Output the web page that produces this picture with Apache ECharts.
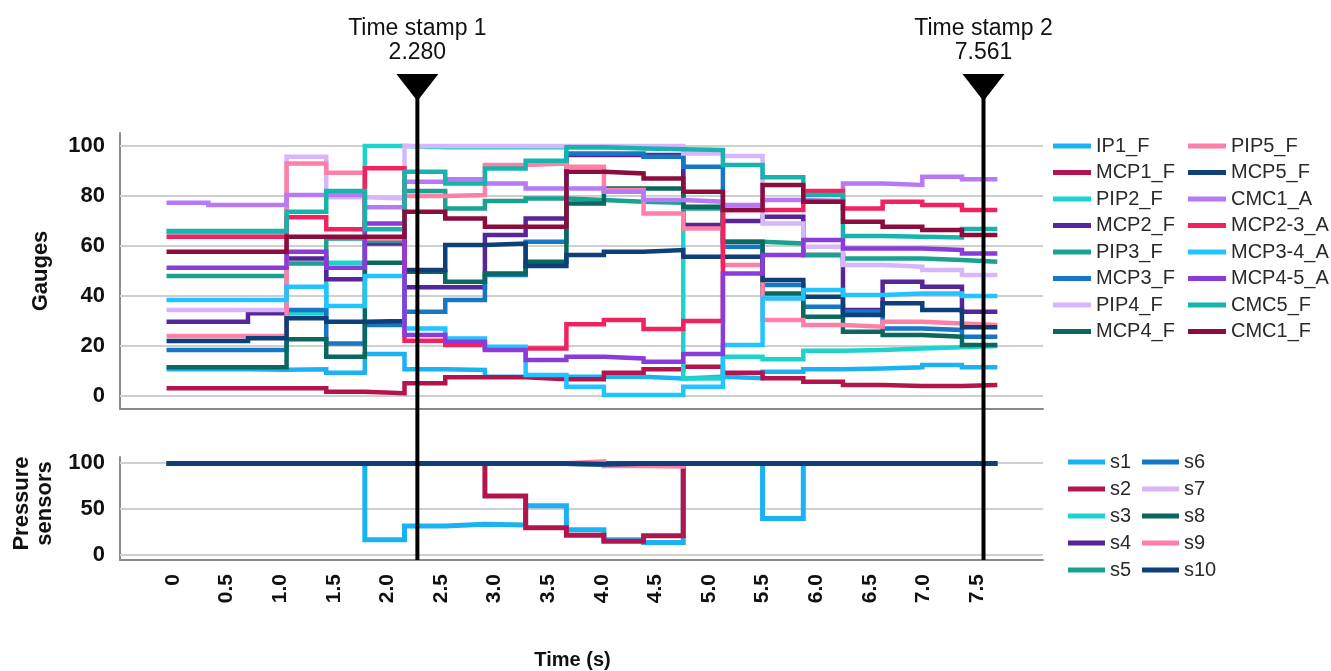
<!DOCTYPE html>
<html>
<head>
<meta charset="utf-8">
<script src="https://cdn.jsdelivr.net/npm/echarts@6/dist/echarts.min.js"></script>
<style>html,body{margin:0;padding:0;background:#fff}#c{width:1331px;height:671px}</style>
</head>
<body>
<div id="c"></div>
<script>
// ---------- data ----------
const times = [-0.06, 0.33, 0.70, 1.06, 1.43, 1.79, 2.16, 2.54, 2.91, 3.29, 3.67, 4.02, 4.39, 4.76, 5.13, 5.50, 5.88, 6.25, 6.62, 6.99, 7.36, 7.69];
const tickValues = [0, 0.5, 1, 1.5, 2, 2.5, 3, 3.5, 4, 4.5, 5, 5.5, 6, 6.5, 7, 7.5];
const tickLabels = ['0', '0.5', '1.0', '1.5', '2.0', '2.5', '3.0', '3.5', '4.0', '4.5', '5.0', '5.5', '6.0', '6.5', '7.0', '7.5'];
const gaugeTicks = [0, 20, 40, 60, 80, 100];
const pressureTicks = [0, 50, 100];
const stampNames = ['Time stamp 1', 'Time stamp 2'];
const stampTimes = [2.280, 7.561];

const gaugeNames = ['IP1_F', 'MCP1_F', 'PIP2_F', 'MCP2_F', 'PIP3_F', 'MCP3_F', 'PIP4_F', 'MCP4_F',
                    'PIP5_F', 'MCP5_F', 'CMC1_A', 'MCP2-3_A', 'MCP3-4_A', 'MCP4-5_A', 'CMC5_F', 'CMC1_F'];
const IP1_F    = [10.7,10.7,10.5,10.7,9.3,16.8,10.7,10.4,7.7,7.7,7.7,7.7,7.0,7.7,7.1,9.7,10.7,11.0,11.5,12.4,11.5];
const MCP1_F   = [3.1,3.1,3.1,3.1,1.7,1.1,5.1,7.5,7.5,6.7,6.7,9.3,10.7,11.7,9.3,7.1,5.7,4.4,4.0,4.0,4.4];
const PIP2_F   = [65.5,65.5,65.5,33.0,53.3,100,99.5,99.5,99.5,99.5,99.5,99.5,99.5,7.0,15.7,14.7,18.1,18.4,19.0,19.5,20.0];
const MCP2_F   = [29.7,29.7,33.1,55.0,46.7,61.0,43.5,43.5,64.4,71.0,96.4,96.4,96.4,68.4,70.0,71.7,56.4,34.4,45.7,43.7,33.7];
const PIP3_F   = [48.0,48.0,48.0,53.0,63.0,62.0,82.0,75.0,78.0,79.0,78.4,77.7,77.3,75.0,61.7,61.0,56.4,55.0,55.0,54.4,53.7];
const MCP3_F   = [18.4,18.4,18.4,34.4,21.0,28.4,33.7,38.4,48.4,61.7,97.0,97.0,95.7,91.7,59.7,44.4,35.7,33.7,27.0,26.4,23.7];
const PIP4_F   = [34.4,34.4,34.4,95.7,79.5,79.0,100,100,100,100,100,100,100,97.0,96.0,69.0,59.7,52.4,51.7,50.4,48.4];
const MCP4_F   = [11.5,11.5,11.5,22.7,15.7,53.3,49.7,45.7,49.0,53.7,77.0,83.0,83.0,75.7,61.7,41.0,31.7,25.7,24.4,23.7,20.4];
const PIP5_F   = [24.0,24.0,24.0,93.0,89.3,63.0,80.0,80.4,92.4,93.0,91.7,82.4,73.0,67.0,52.4,30.4,28.4,27.7,29.7,29.0,28.4];
const MCP5_F   = [22.0,22.0,23.1,31.1,29.7,30.0,50.4,60.4,61.0,52.0,56.4,57.7,58.4,55.7,55.7,46.4,39.7,32.4,37.1,34.4,27.5];
const CMC1_A   = [77.3,76.4,76.4,80.4,80.4,75.5,85.7,86.7,85.0,83.0,83.0,81.7,78.4,77.7,76.4,78.4,78.0,85.0,84.4,87.7,86.7];
const MCP2_3_A = [63.7,63.7,63.7,71.5,66.7,91.1,22.1,20.4,19.0,19.0,28.7,30.4,26.8,30.0,74.4,74.4,82.0,75.0,77.7,76.4,74.4];
const MCP3_4_A = [38.4,38.4,38.4,43.7,36.0,48.0,27.0,23.0,19.7,8.4,3.7,0.4,0.4,3.7,20.4,39.0,42.4,40.4,41.0,41.0,40.0];
const MCP4_5_A = [51.3,51.3,51.3,57.7,51.3,69.0,24.4,21.7,18.4,14.4,15.7,15.0,13.7,16.8,49.0,56.4,62.4,59.0,59.0,58.4,57.0];
const CMC5_F   = [66.0,66.0,66.0,73.7,82.0,66.7,89.7,85.0,91.0,94.1,99.5,99.0,98.7,98.4,92.4,87.5,80.4,64.0,63.7,63.4,66.8];
const CMC1_F   = [57.7,57.7,57.7,63.7,63.7,63.7,73.7,71.0,67.7,67.7,89.7,89.0,87.0,81.7,74.4,84.4,77.7,69.7,67.7,66.4,64.4];
const gaugeValues = [IP1_F, MCP1_F, PIP2_F, MCP2_F, PIP3_F, MCP3_F, PIP4_F, MCP4_F,
                     PIP5_F, MCP5_F, CMC1_A, MCP2_3_A, MCP3_4_A, MCP4_5_A, CMC5_F, CMC1_F];

const sensorNames = ['s1', 's2', 's3', 's4', 's5', 's6', 's7', 's8', 's9', 's10'];
const s1  = [99,99,99,99,99,16,31,33,32,53,27,16,13,99,99,39,99,99,99,99,99];
const s2  = [99,99,99,99,99,99,99,99,63.5,29,21,14.5,20.5,99,99,99,99,99,99,99,99];
const s3  = [99,99,99,99,99,99,99,99,99,99,99,99,99,99,99,99,99,99,99,99,99];
const s4  = [99,99,99,99,99,99,99,99,99,99,99,99,99,99,99,99,99,99,99,99,99];
const s5  = [99,99,99,99,99,99,99,99,99,99,99,99,99,99,99,99,99,99,99,99,99];
const s6  = [99,99,99,99,99,99,99,99,99,99,98,99,99,99,99,99,99,99,99,99,99];
const s7  = [99,99,99,99,99,99,99,99,99,99,99,99,99,99,99,99,99,99,99,99,99];
const s8  = [99,99,99,99,99,99,99,99,99,99,99,99,99,99,99,99,99,99,99,99,99];
const s9  = [99,99,99,99,99,99,99,99,99,99,101,96.5,96,99,99,99,99,99,99,99,99];
const s10 = [99,99,99,99,99,99,99,99,99,99,98,99,99,99,99,99,99,99,99,99,99];
const sensorValues = [s1, s2, s3, s4, s5, s6, s7, s8, s9, s10];

// ---------- styles ----------
const gaugeColors = ['#1ab2f2', '#b3144e', '#1fd3cd', '#57259a', '#1ba190', '#1677c7', '#d8b6fb', '#0b685f',
                     '#ff80a6', '#0e3f79', '#b67af6', '#f2225f', '#21c4ff', '#8a3cd8', '#17b4ae', '#8a0d3d'];
const sensorColors = ['#1ab2f2', '#b3144e', '#1fd3cd', '#57259a', '#1ba190', '#1677c7', '#d8b6fb', '#0b685f', '#ff80a6', '#0e3f79'];
const FONT = '"Liberation Sans", Arial, Helvetica, sans-serif';
const X_MIN = -0.494, X_MAX = 8.116;

function stepData(vals) {
  return times.map((t, i) => [t, vals[Math.min(i, vals.length - 1)]]);
}

const series = [];
function gridSeries(idx, ticks) {
  return {
    type: 'line', xAxisIndex: idx, yAxisIndex: idx, data: [[0, 0]], silent: true, z: 1,
    showSymbol: false, lineStyle: { opacity: 0 }, tooltip: { show: false },
    markLine: {
      silent: true, z: 1, symbol: ['none', 'none'], label: { show: false }, animation: false,
      lineStyle: { color: '#cfcfcf', width: 2, type: 'solid' },
      data: ticks.map(v => ({ yAxis: v }))
    }
  };
}
series.push(gridSeries(0, gaugeTicks));
series.push(gridSeries(1, pressureTicks));

gaugeNames.forEach((n, i) => {
  series.push({
    name: n, type: 'line', xAxisIndex: 0, yAxisIndex: 0, step: 'end', showSymbol: false, z: 10,
    color: gaugeColors[i], lineStyle: { width: 4.5, color: gaugeColors[i], join: 'miter', cap: 'butt' },
    data: stepData(gaugeValues[i])
  });
});
sensorNames.forEach((n, i) => {
  series.push({
    name: n, type: 'line', xAxisIndex: 1, yAxisIndex: 1, step: 'end', showSymbol: false, z: 10,
    color: sensorColors[i], lineStyle: { width: 5, color: sensorColors[i], join: 'miter', cap: 'butt' },
    data: stepData(sensorValues[i])
  });
});

const legendText = { fontSize: 20, color: '#2a2a2a', lineHeight: 20, fontFamily: FONT };
function legend(names, left, top, w, gap) {
  return { data: names, orient: 'vertical', left: left, top: top, itemWidth: w, itemHeight: 5,
           itemGap: gap, icon: 'rect', selectedMode: false, textStyle: legendText, padding: 0 };
}

const axisLineStyle = { show: true, onZero: false, lineStyle: { color: '#8a8a8a', width: 2 } };
const yLabel = { fontSize: 22, fontWeight: 'bold', color: '#111', fontFamily: FONT, margin: 15 };

const option = {
  animation: false,
  backgroundColor: '#fff',
  grid: [
    { left: 120, top: 133, width: 923, height: 276 },
    { left: 120, top: 457, width: 923, height: 113 }
  ],
  xAxis: [
    { gridIndex: 0, type: 'value', min: X_MIN, max: X_MAX, axisLine: axisLineStyle,
      axisTick: { show: false }, axisLabel: { show: false }, splitLine: { show: false } },
    { gridIndex: 1, type: 'value', min: X_MIN, max: X_MAX, axisLine: axisLineStyle,
      axisTick: { show: false }, splitLine: { show: false },
      axisLabel: { customValues: tickValues, rotate: 90, margin: 14, fontSize: 21, fontWeight: 'bold',
                   color: '#111', fontFamily: FONT,
                   formatter: v => { const k = tickValues.findIndex(t => Math.abs(t - v) < 1e-6); return k < 0 ? '' : tickLabels[k]; } },
      name: 'Time (s)', nameLocation: 'middle', nameGap: 90,
      nameTextStyle: { fontSize: 20, fontWeight: 'bold', color: '#111', fontFamily: FONT, padding: [0, 18, 0, 0] } }
  ],
  yAxis: [
    { gridIndex: 0, type: 'value', min: -5.2, max: 105.2, axisLine: axisLineStyle, axisTick: { show: false },
      splitLine: { show: false }, axisLabel: Object.assign({ customValues: gaugeTicks }, yLabel),
      name: 'Gauges', nameLocation: 'middle', nameGap: 68, nameRotate: 90,
      nameTextStyle: { fontSize: 22, fontWeight: 'bold', color: '#111', fontFamily: FONT } },
    { gridIndex: 1, type: 'value', min: -6, max: 106, axisLine: axisLineStyle, axisTick: { show: false },
      splitLine: { show: false }, axisLabel: Object.assign({ customValues: pressureTicks }, yLabel),
      name: 'Pressure\nsensors', nameLocation: 'middle', nameGap: 64, nameRotate: 90,
      nameTextStyle: { fontSize: 22, fontWeight: 'bold', color: '#111', fontFamily: FONT, lineHeight: 23, padding: [0, 0, 0, 10] } }
  ],
  legend: [
    legend(gaugeNames.slice(0, 8), 1053, 136, 38, 6.5),
    legend(gaugeNames.slice(8), 1188, 136, 38, 6.5),
    legend(sensorNames.slice(0, 5), 1068, 452, 37, 7),
    legend(sensorNames.slice(5), 1142, 452, 37, 7)
  ],
  series: series
};

const chart = echarts.init(document.getElementById('c'), null, { renderer: 'canvas' });
chart.setOption(option);

const yBottom = chart.convertToPixel({ yAxisIndex: 1 }, -6);
const graphics = [];
stampTimes.forEach((t, i) => {
  const x = chart.convertToPixel({ xAxisIndex: 1 }, t);
  graphics.push({ type: 'line', z: 100, shape: { x1: x, y1: 98, x2: x, y2: yBottom },
                  style: { stroke: '#000', lineWidth: 4 } });
  graphics.push({ type: 'polygon', z: 100, shape: { points: [[x - 21, 74], [x + 21, 74], [x, 101]] },
                  style: { fill: '#000' } });
  graphics.push({ type: 'text', z: 100, x: x, y: 29,
                  style: { text: stampNames[i], font: '23px ' + FONT, fill: '#111', align: 'center', verticalAlign: 'middle' } });
  graphics.push({ type: 'text', z: 100, x: x, y: 53,
                  style: { text: t.toFixed(3), font: '23px ' + FONT, fill: '#111', align: 'center', verticalAlign: 'middle' } });
});
chart.setOption({ graphic: graphics });
</script>
</body>
</html>
